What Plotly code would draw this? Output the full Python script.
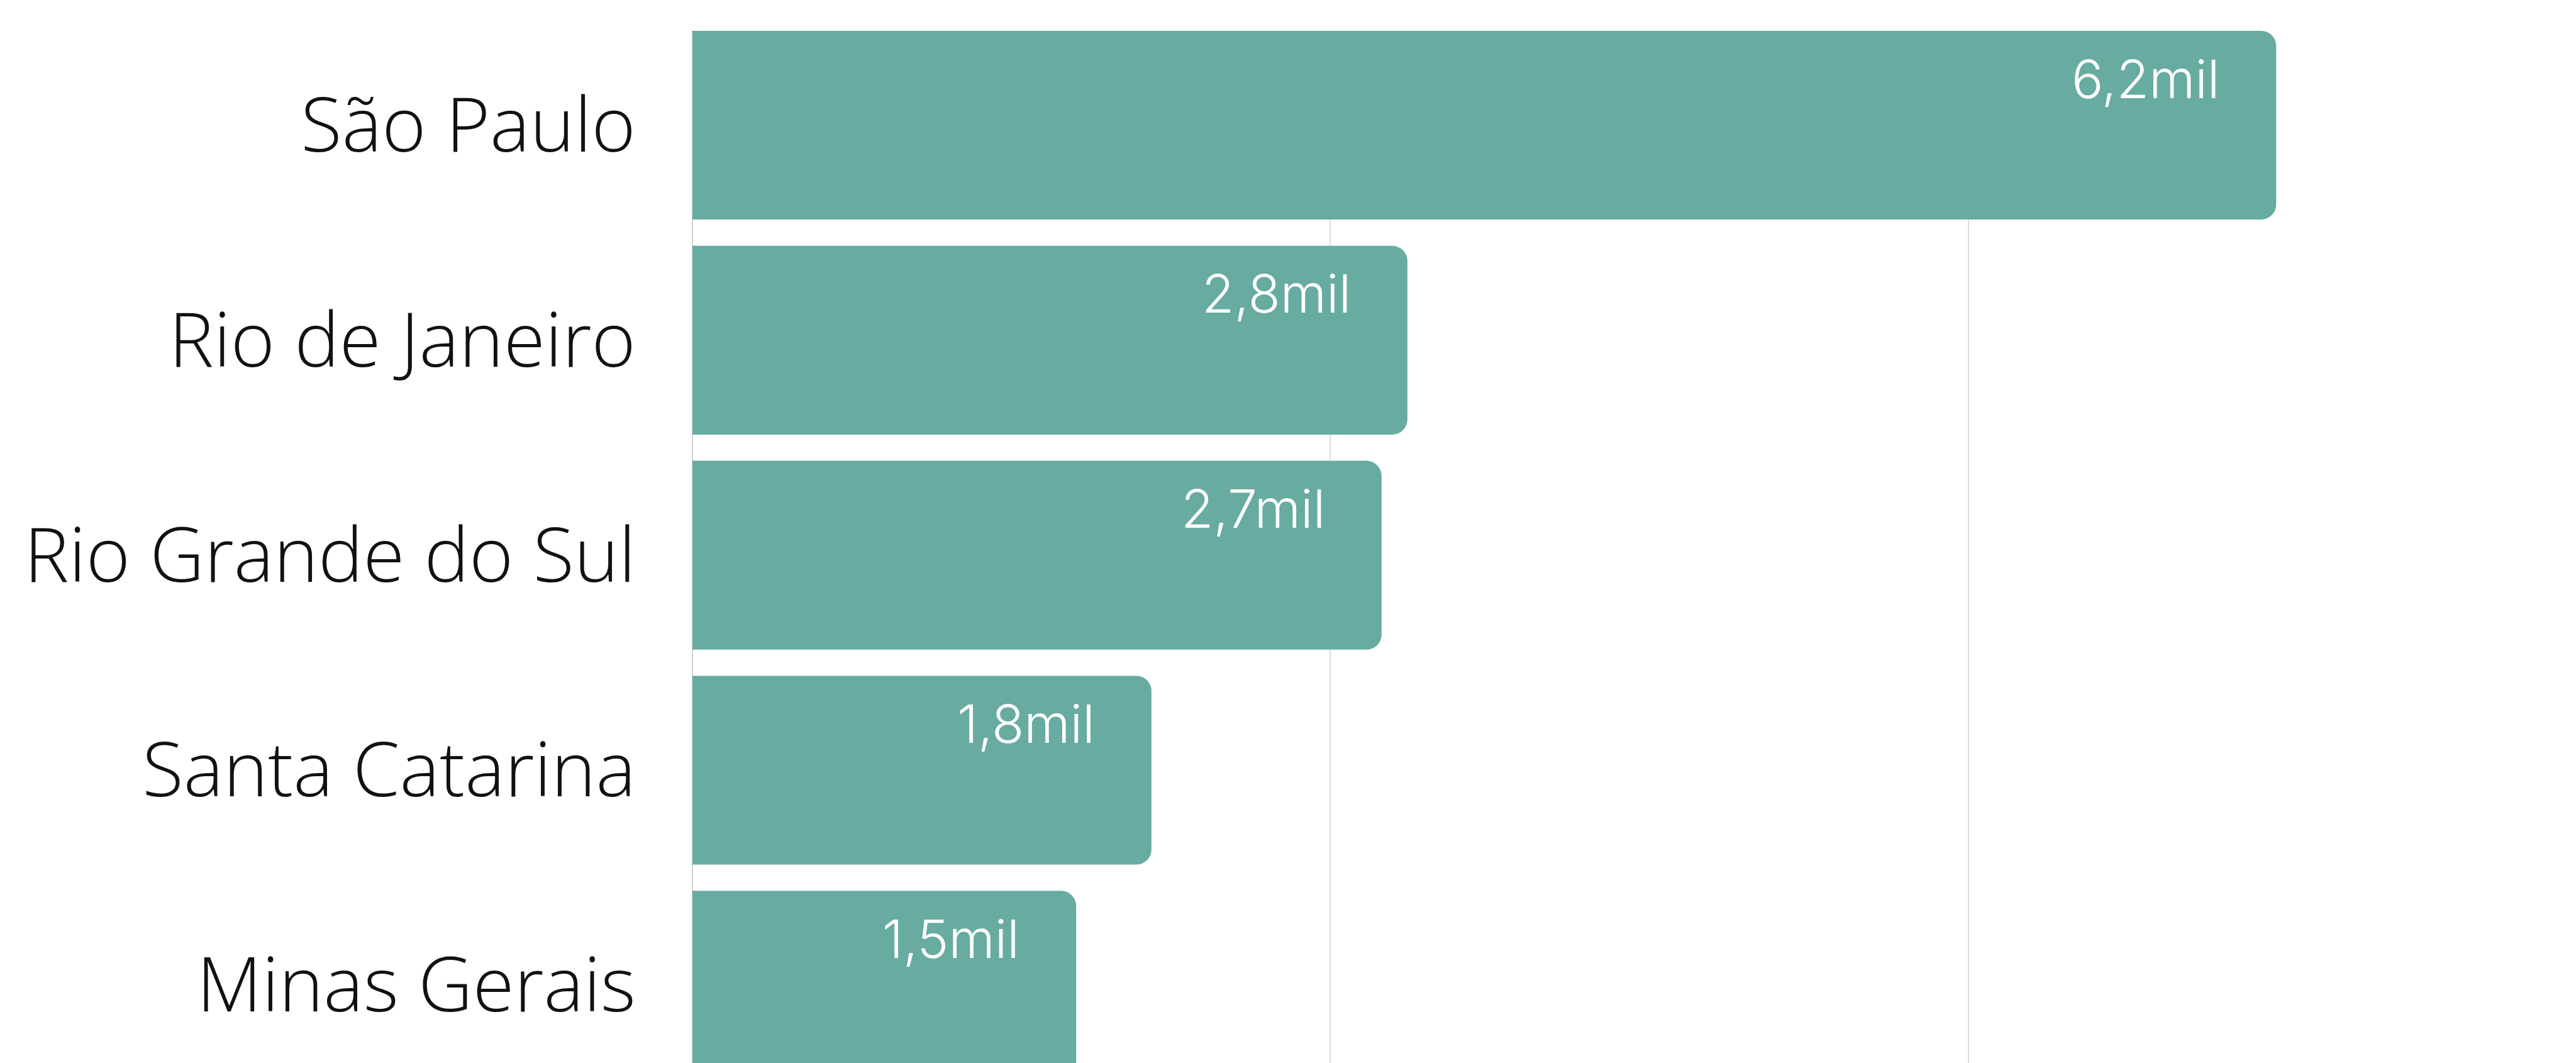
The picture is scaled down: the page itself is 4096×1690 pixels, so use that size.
import plotly.graph_objects as go

# Data
states = ["São Paulo", "Rio de Janeiro", "Rio Grande do Sul", "Santa Catarina", "Minas Gerais"]
values = [6207, 2802, 2701, 1799, 1504]
value_labels = ["6,2mil", "2,8mil", "2,7mil", "1,8mil", "1,5mil"]
x_tickvals = [0, 2500, 5000, 7500]

BAR_COLOR = "#68ABA0"

fig = go.Figure()
fig.add_trace(go.Bar(
    x=values,
    y=states,
    orientation="h",
    marker=dict(color=BAR_COLOR, line=dict(width=0)),
    width=0.878,
    hoverinfo="skip",
))

for s, v, lab in zip(states, values, value_labels):
    fig.add_annotation(
        x=v, y=s, text=lab, showarrow=False,
        xanchor="right", yanchor="middle",
        xshift=-88, yshift=74,
        font=dict(family="Inter, Noto Sans, sans-serif", size=84, color="white", weight=300),
    )

fig.update_layout(
    width=4096, height=1690,
    margin=dict(l=1101, r=0, t=49, b=0, pad=0),
    paper_bgcolor="white", plot_bgcolor="white",
    showlegend=False,
    barcornerradius=24,
    xaxis=dict(
        range=[0, 7382],
        tickvals=x_tickvals,
        showticklabels=False,
        showgrid=True, gridcolor="#dcdcdc", gridwidth=1.8,
        zeroline=True, zerolinecolor="#cfcfcf", zerolinewidth=1.8,
        showline=False, ticks="",
        fixedrange=True,
    ),
    yaxis=dict(
        categoryorder="array", categoryarray=states,
        range=[4.362, -0.439],
        showgrid=False, zeroline=False, showline=False, ticks="",
        ticklabelstandoff=89,
        tickfont=dict(family="Open Sans", size=120, color="#111111", weight=300),
        fixedrange=True,
    ),
)

fig.write_html("out.html")
